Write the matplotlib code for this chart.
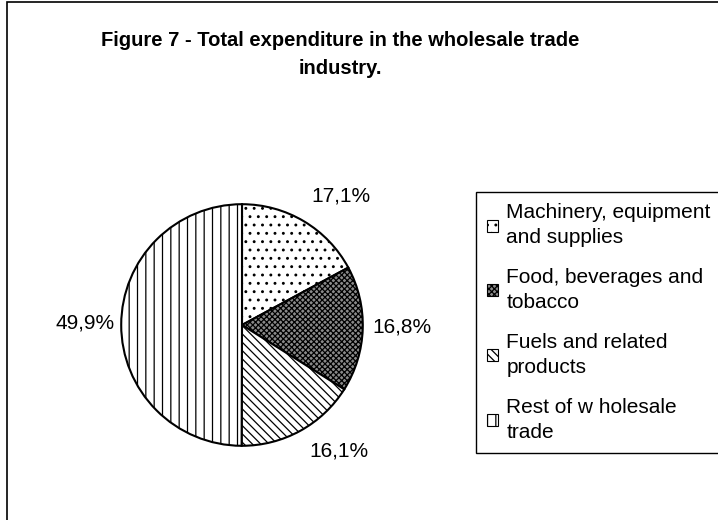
import matplotlib
matplotlib.use("Agg")
import matplotlib.pyplot as plt
from matplotlib.patches import Patch, Rectangle

plt.rcParams['font.family'] = ['Liberation Sans', 'DejaVu Sans']
plt.rcParams['hatch.linewidth'] = 0.9

title = "Figure 7 - Total expenditure in the wholesale trade\nindustry."
categories = ["Machinery, equipment\nand supplies",
              "Food, beverages and\ntobacco",
              "Fuels and related\nproducts",
              "Rest of w holesale\ntrade"]
shares = [17.1, 16.8, 16.1, 49.9]
pct_labels = ["17,1%", "16,8%", "16,1%", "49,9%"]

# styles per slice
faces = ['white', '#8a8a8a', 'white', 'white']
hatches = ['..', 'xxxxxx', '\\\\\\\\', '||']
# label spots, in pie radius units
label_pos = [(0.82, 1.07), (1.32, -0.02), (0.80, -1.04), (-1.30, 0.02)]

fig = plt.figure(figsize=(7.18, 5.2), dpi=100)

# outer frame of the chart area
fig.patches.append(Rectangle((7 / 718, -0.1), 1.2, 1 - 2 / 520 + 0.1,
                             transform=fig.transFigure, fill=False,
                             edgecolor='black', linewidth=1.2))

fig.text(340 / 718, 1 - 55 / 520, title, ha='center', va='center',
         fontsize=14.5, fontweight='bold', linespacing=1.6)

ax = fig.add_axes([120 / 718, 1 - 447 / 520, 244 / 718, 244 / 520])
wedges, _ = ax.pie(shares, startangle=90, counterclock=False,
                   colors=faces,
                   wedgeprops=dict(edgecolor='black', linewidth=1.5))
for w, h in zip(wedges, hatches):
    w.set_hatch(h)
ax.set_xlim(-1.01, 1.01)
ax.set_ylim(-1.01, 1.01)
ax.set_aspect('equal')
ax.axis('off')

for txt, (x, y) in zip(pct_labels, label_pos):
    ax.text(x, y, txt, ha='center', va='center', fontsize=15)

handles = [Patch(facecolor=f, edgecolor='black', hatch=h, linewidth=0.8)
           for f, h in zip(faces, hatches)]
leg = fig.legend(handles, categories, loc='upper left',
                 bbox_to_anchor=(476 / 718, 1 - 192 / 520),
                 borderaxespad=0, fontsize=15, frameon=True,
                 fancybox=False, edgecolor='black', framealpha=1,
                 handlelength=0.5, handleheight=0.5, handletextpad=0.4,
                 labelspacing=1.0, borderpad=0.55)
leg.get_frame().set_linewidth(1.0)
for t in leg.get_texts():
    t.set_linespacing(1.4)

fig.savefig('out.png', dpi=100)
